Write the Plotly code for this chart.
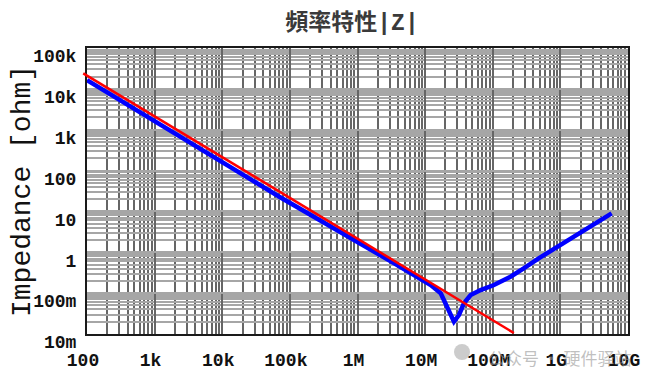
import plotly.graph_objects as go

# ---- data ----
freq_ticks = [1e2, 1e3, 1e4, 1e5, 1e6, 1e7, 1e8, 1e9, 1e10]
freq_labels = ["100", "1k", "10k", "100k", "1M", "10M", "100M", "1G", "10G"]
z_ticks = [1e-2, 1e-1, 1, 1e1, 1e2, 1e3, 1e4, 1e5]
z_labels = ["10m", "100m", "1", "10", "100", "1k", "10k", "100k"]

# measured |Z| curve (blue)
blue_freq = [1e2, 7.08e4, 3.49e6, 6.89e6, 1.21e7, 1.70e7, 2.13e7, 2.67e7, 3.17e7,
             3.75e7, 4.71e7, 6.61e7, 1.04e8, 1.83e8, 2.87e8, 4.78e8, 5.73e9]
blue_z = [1.63e4, 22.5, 0.538, 0.278, 0.158, 0.0993, 0.0467, 0.020, 0.0292,
          0.0565, 0.090, 0.119, 0.158, 0.253, 0.406, 0.71, 9.0]

# reference capacitive line (red)
red_freq = [88, 2.05e8]
red_z = [2.40e4, 1.06e-2]

minor_mult = [2, 3, 4, 5, 6, 7, 8, 9]

# ---- layout geometry (page body adds an 8px offset) ----
OFF = 8
W, H = 658 - OFF, 384 - OFF
PLOT_L, PLOT_R, PLOT_T, PLOT_B = 87 - OFF, 628 - OFF, 48 - OFF, 334 - OFF
ML = 62
MR = W - PLOT_R
MT = PLOT_T
MB = H - PLOT_B
PW = W - ML - MR
PH = H - MT - MB
x0 = (PLOT_L - ML) / PW
x_lo, x_hi = 2, 10
dec_per_px = (x_hi - x_lo) / (PW * (1 - x0))
x2_lo = x_hi - PW * dec_per_px


def px_x(sx):
    return (sx - OFF - ML) / PW


def px_y(sy):
    return 1 - (sy - OFF - MT) / PH


x_minor = [m * d for d in freq_ticks[:-1] for m in minor_mult]
y_minor = [m * d for d in z_ticks[:-1] for m in minor_mult]

mono = "Liberation Mono, DejaVu Sans Mono, monospace"
tick_font = dict(family=mono, size=18, color="#111111", weight="bold")

fig = go.Figure()
fig.add_trace(go.Scatter(x=blue_freq, y=blue_z, mode="lines",
                         line=dict(color="#0000ff", width=4.5),
                         xaxis="x", yaxis="y", showlegend=False, hoverinfo="skip"))
fig.add_trace(go.Scatter(x=red_freq, y=red_z, mode="lines",
                         line=dict(color="#ff0000", width=2.5),
                         xaxis="x2", yaxis="y2", showlegend=False, hoverinfo="skip"))

fig.update_layout(
    width=W, height=H,
    margin=dict(l=ML, r=MR, t=MT, b=MB),
    paper_bgcolor="white",
    plot_bgcolor="rgba(0,0,0,0)",
    title=dict(text="頻率特性|Z|", x=(352 - OFF) / W, xref="container", xanchor="center",
               y=1 - (22 - OFF) / H, yref="container", yanchor="middle",
               font=dict(family="Liberation Mono, Noto Sans CJK TC", size=23,
                         color="#3a3a3a", weight="bold")),
    xaxis=dict(type="log", range=[x_lo, x_hi], domain=[x0, 1], anchor="y",
               tickmode="array", tickvals=freq_ticks, ticktext=freq_labels,
               tickfont=tick_font, ticks="", ticklabelshift=-4, ticklabelstandoff=8,
               showgrid=True, gridcolor="#666666", gridwidth=1.6,
               minor=dict(tickmode="array", tickvals=x_minor, showgrid=True,
                          gridcolor="#666666", gridwidth=1.6, ticks=""),
               showline=True, linecolor="#1a1a1a", linewidth=2, mirror=True,
               zeroline=False),
    xaxis2=dict(type="log", range=[x2_lo, x_hi], domain=[0, 1], anchor="y2",
                visible=False, showgrid=False, zeroline=False),
    yaxis=dict(type="log", range=[-2, 5], domain=[0, 1], anchor="x",
               tickmode="array", tickvals=z_ticks, ticktext=z_labels,
               tickfont=tick_font, ticks="", ticklabelshift=8, ticklabelstandoff=5,
               showgrid=True, gridcolor="#a6a6a6", gridwidth=1.5,
               minor=dict(tickmode="array", tickvals=y_minor, showgrid=True,
                          gridcolor="#a6a6a6", gridwidth=1.5, ticks=""),
               showline=True, linecolor="#1a1a1a", linewidth=2, mirror=True,
               zeroline=False),
    yaxis2=dict(type="log", range=[-2, 5], domain=[0, 1], anchor="x2",
                visible=False, showgrid=False, zeroline=False),
)

# y-axis title
fig.add_annotation(text="Impedance [ohm]", xref="paper", yref="paper",
                   x=px_x(22), y=px_y(191), xanchor="center", yanchor="middle",
                   textangle=-90, showarrow=False,
                   font=dict(family=mono, size=28, color="#111111"))

# watermark
fig.add_annotation(text="公众号 · 硬件驿站", xref="paper", yref="paper",
                   x=px_x(560), y=px_y(357),
                   xanchor="center", yanchor="middle", showarrow=False,
                   font=dict(family="Noto Sans CJK SC", size=17, color="rgba(150,150,150,0.6)"))
fig.add_shape(type="circle", xref="paper", yref="paper",
              x0=px_x(454), x1=px_x(470), y0=px_y(360), y1=px_y(344),
              fillcolor="rgba(170,170,170,0.6)", line=dict(width=0))

fig.write_html("out.html")
